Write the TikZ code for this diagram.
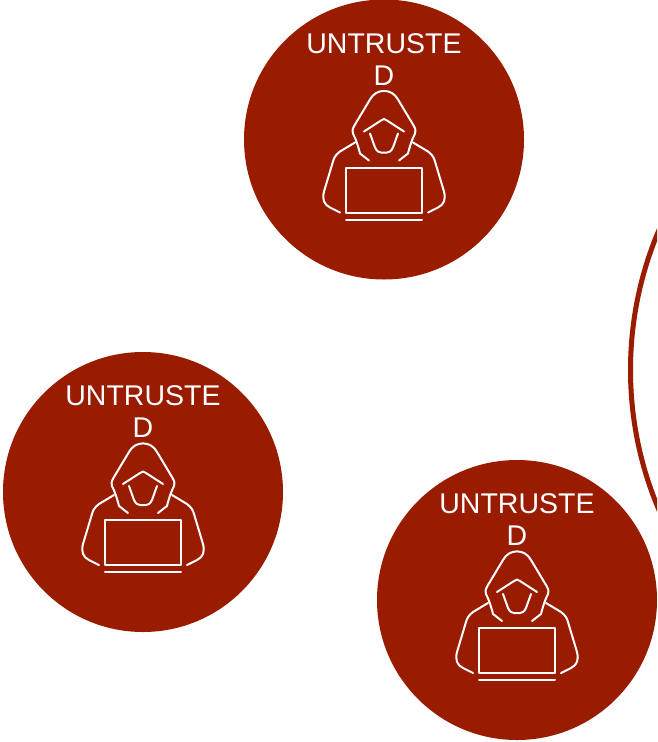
\documentclass[tikz,border=0pt]{standalone}
\usepackage{fontspec}
\setmainfont{Liberation Sans}
\usetikzlibrary{positioning}
\definecolor{untrustedred}{HTML}{991B00}

\tikzset{
	untrusted/.style={circle, fill=untrustedred, minimum size=280pt, inner sep=0pt},
	caption/.style={text=white, align=center, font=\fontsize{28.5}{32}\selectfont, inner sep=0pt},
	icon/.style={white, line width=2pt, line cap=round, line join=round},
	hacker/.pic={
		\node[untrusted] (-disc) at (0, 0) {};
		\node[caption, anchor=base] (-label) at (0, -54.5) {UNTRUSTE\\D};
		\draw[icon] (-15, 21) -- (-24, 14) .. controls (-26, 6) and (-28, 0) .. (-31, -6) .. controls (-32, -10) and (-31, -12) .. (-29, -15) -- (-14, -40) .. controls (-8, -51.5) and (8, -51.5) .. (14, -40) -- (29, -15) .. controls (31, -12) and (32, -10) .. (31, -6) .. controls (28, 0) and (26, 6) .. (24, 14) -- (15, 21);
		\draw[icon] (-20, -8) -- (-3, -19) .. controls (-1, -21) and (1, -21) .. (3, -19) -- (20, -8);
		\draw[icon] (-14, -6) -- (-9, 8) .. controls (-7, 12) and (-5, 13) .. (-3, 13) -- (3, 13) .. controls (5, 13) and (7, 12) .. (9, 8) -- (14, -6);
		\draw[icon] (-29, 3) -- (-44, 12) .. controls (-48, 15) and (-50, 18) .. (-51, 22) -- (-60, 52) .. controls (-62, 60) and (-60, 65) .. (-54, 68) -- (-44, 73);
		\draw[icon] (29, 3) -- (44, 12) .. controls (48, 15) and (50, 18) .. (51, 22) -- (60, 52) .. controls (62, 60) and (60, 65) .. (54, 68) -- (44, 73);
		\draw[icon] (-38, 28) rectangle (38, 73);
		\draw[icon] (-38, 80) -- (38, 80);
	}
}

\begin{document}
\begin{tikzpicture}[x=1pt, y=-1pt]
	\useasboundingbox (0, 0) rectangle (657, 742);
	\clip (0, 0) rectangle (657, 742);
	\draw[untrustedred, line width=5pt] (987.5, 370) circle [radius=357pt];
	\pic (top) at (384, 139.5) {hacker};
	\pic (left) at (143, 492) {hacker};
	\pic (bottom) at (517, 600) {hacker};
\end{tikzpicture}
\end{document}
